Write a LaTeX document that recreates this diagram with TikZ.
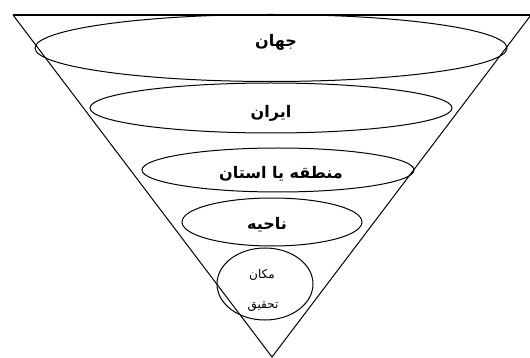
\documentclass[tikz,border=0pt]{standalone}
\usepackage{fontspec}
\newfontfamily\farsifont[Script=Arabic]{DejaVu Sans}
\TeXXeTstate=1
\usetikzlibrary{shapes.geometric}
\tikzset{
    level/.style={ellipse,draw,line width=1pt,inner sep=0pt},
    levellabel/.style={inner sep=0pt,font=\farsifont\bfseries\fontsize{16}{18}\selectfont},
    sitelabel/.style={inner sep=0pt,font=\farsifont\fontsize{12}{14}\selectfont}
}

\begin{document}
\begin{tikzpicture}[x=1pt,y=-1pt,line width=1pt]
\useasboundingbox (0,0) rectangle (530,358);

% Funnel
\coordinate (tl) at (13,15);
\coordinate (tr) at (531,15);
\coordinate (apex) at (272,357);
\draw[line width=1.3pt] (tl) -- (tr);
\draw (tl) -- (apex) -- (tr);

% Levels
\node[level,minimum width=472pt,minimum height=67pt] (world) at (271,48) {};
\node[level,minimum width=362pt,minimum height=50pt] (iran) at (271,108) {};
\node[level,minimum width=272pt,minimum height=44pt] (province) at (278,170) {};
\node[level,minimum width=180pt,minimum height=48pt] (district) at (272,222) {};
\node[level,minimum width=96pt,minimum height=72pt] (site) at (265,284) {};

% Labels
\node[levellabel] (worldtext) at ([shift={(5,-6)}]world) {\beginR جهان\endR};
\node[levellabel] (irantext) at ([shift={(0,5)}]iran) {\beginR ایران\endR};
\node[levellabel] (provincetext) at ([shift={(3,4)}]province) {\beginR منطقه یا استان\endR};
\node[levellabel] (districttext) at ([shift={(-5,3)}]district) {\beginR ناحیه\endR};
\node[sitelabel] (sitetop) at ([shift={(-3,-9)}]site) {\beginR مکان\endR};
\node[sitelabel] (sitebottom) at ([shift={(-2,23)}]site) {\beginR تحقیق\endR};

\end{tikzpicture}
\end{document}
